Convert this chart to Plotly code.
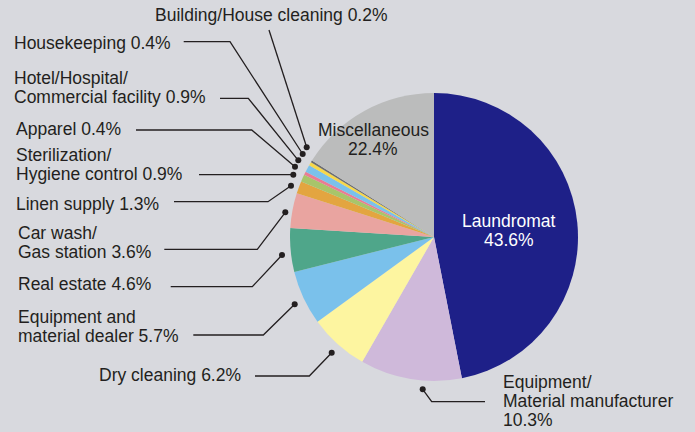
import plotly.graph_objects as go

# ---------------- data ----------------
categories = [
    "Laundromat",
    "Equipment/Material manufacturer",
    "Dry cleaning",
    "Equipment and material dealer",
    "Real estate",
    "Car wash/Gas station",
    "Linen supply",
    "Sterilization/Hygiene control",
    "Apparel",
    "Hotel/Hospital/Commercial facility",
    "Housekeeping",
    "Building/House cleaning",
    "Miscellaneous",
]
# percentages printed in the labels
label_pct = [43.6, 10.3, 6.2, 5.7, 4.6, 3.6, 1.3, 0.9, 0.4, 0.9, 0.4, 0.2, 22.4]
# slice sizes as drawn in the picture (measured from the slice angles)
slice_share = [46.9, 11.4, 6.7, 6.1, 4.9, 3.9, 1.4, 0.8, 0.4, 0.8, 0.4, 0.2, 16.1]
colors = [
    "#1e2088", "#cfb9da", "#fdf5a0", "#7ac1eb", "#4fa68a", "#e9a4a0",
    "#e3a540", "#a8c56a", "#ea7c93", "#7ac1eb", "#f7d84a", "#6d6e70", "#bbbcbc",
]

# ---------------- layout ----------------
W, H = 695, 432
BG = "#d8d9de"
INK = "#231f20"
FONT = "Liberation Sans, Arial, sans-serif"
FS = 17.5

cx, cy, R = 434, 237, 144

fig = go.Figure()

fig.add_trace(go.Pie(
    values=slice_share,
    labels=categories,
    sort=False,
    direction="clockwise",
    rotation=0,
    marker=dict(colors=colors, line=dict(width=0)),
    textinfo="none",
    hoverinfo="label",
    showlegend=False,
    domain=dict(x=[(cx - R) / W, (cx + R) / W], y=[1 - (cy + R) / H, 1 - (cy - R) / H]),
))

def pct(i):
    return f"{label_pct[i]}%"

# outside labels: (category index, text lines, left x, line centre ys, leader polyline)
outside = [
    (11, ["Building/House cleaning " + pct(11)], 153, [15], [(269, 30), (306.7, 147.3)]),
    (10, ["Housekeeping " + pct(10)], 12, [43], [(183.7, 41.7), (230, 41.7), (302.7, 154)]),
    (9, ["Hotel/Hospital/", "Commercial facility " + pct(9)], 12, [78, 97], [(220, 98.3), (248.3, 98.3), (298.3, 160.3)]),
    (8, ["Apparel " + pct(8)], 14, [129], [(136, 130), (251.7, 130), (295, 166.7)]),
    (7, ["Sterilization/", "Hygiene control " + pct(7)], 14, [155, 174], [(199, 174.7), (293.3, 174.7)]),
    (6, ["Linen supply " + pct(6)], 14, [204], [(174, 201.7), (268, 201.7), (291, 185.7)]),
    (5, ["Car wash/", "Gas station " + pct(5)], 15.7, [233, 252], [(164.3, 249.3), (257.3, 249.3), (285.3, 212.3)]),
    (4, ["Real estate " + pct(4)], 15.7, [284.3], [(170.7, 286.7), (252.3, 286.7), (282, 255)]),
    (3, ["Equipment and", "material dealer " + pct(3)], 15.7, [317, 336], [(193.3, 335), (263.3, 335), (294.7, 304.3)]),
    (2, ["Dry cleaning " + pct(2)], 96.7, [375], [(255, 376), (309.3, 376), (331.7, 352.7)]),
    (1, ["Equipment/", "Material manufacturer", pct(1)], 501, [382, 401, 420], [(485, 401.7), (431.7, 401.7), (422.7, 389.3)]),
]

annotations = []
dots_x, dots_y = [], []
for idx, lines, lx, ys, path in outside:
    for t, yy in zip(lines, ys):
        annotations.append(dict(
            x=lx, y=yy, xref="x", yref="y", text=t, showarrow=False,
            xanchor="left", yanchor="middle",
            font=dict(family=FONT, size=FS, color=INK),
        ))
    fig.add_trace(go.Scatter(
        x=[p[0] for p in path], y=[p[1] for p in path], mode="lines",
        line=dict(color=INK, width=1.3), hoverinfo="skip", showlegend=False,
    ))
    dots_x.append(path[-1][0])
    dots_y.append(path[-1][1])

fig.add_trace(go.Scatter(
    x=dots_x, y=dots_y, mode="markers",
    marker=dict(color=INK, size=6), hoverinfo="skip", showlegend=False,
))

# inside labels
inside = [
    (0, [(categories[0], 221), (pct(0), 240)], 509, "white"),
    (12, [(categories[12], 130), (pct(12), 149)], 373.3, INK),
]
for idx, lines, xc, col in inside:
    for t, yy in lines:
        annotations.append(dict(
            x=xc, y=yy, xref="x", yref="y", text=t, showarrow=False,
            xanchor="center", yanchor="middle",
            font=dict(family=FONT, size=FS, color=col),
        ))

fig.update_layout(
    width=W, height=H,
    margin=dict(l=0, r=0, t=0, b=0),
    paper_bgcolor=BG, plot_bgcolor=BG,
    xaxis=dict(range=[0, W], visible=False, fixedrange=True),
    yaxis=dict(range=[H, 0], visible=False, fixedrange=True),
    annotations=annotations,
    showlegend=False,
)

fig.write_html("out.html", config={"displayModeBar": False},
               post_script="document.body.style.margin='0';")
